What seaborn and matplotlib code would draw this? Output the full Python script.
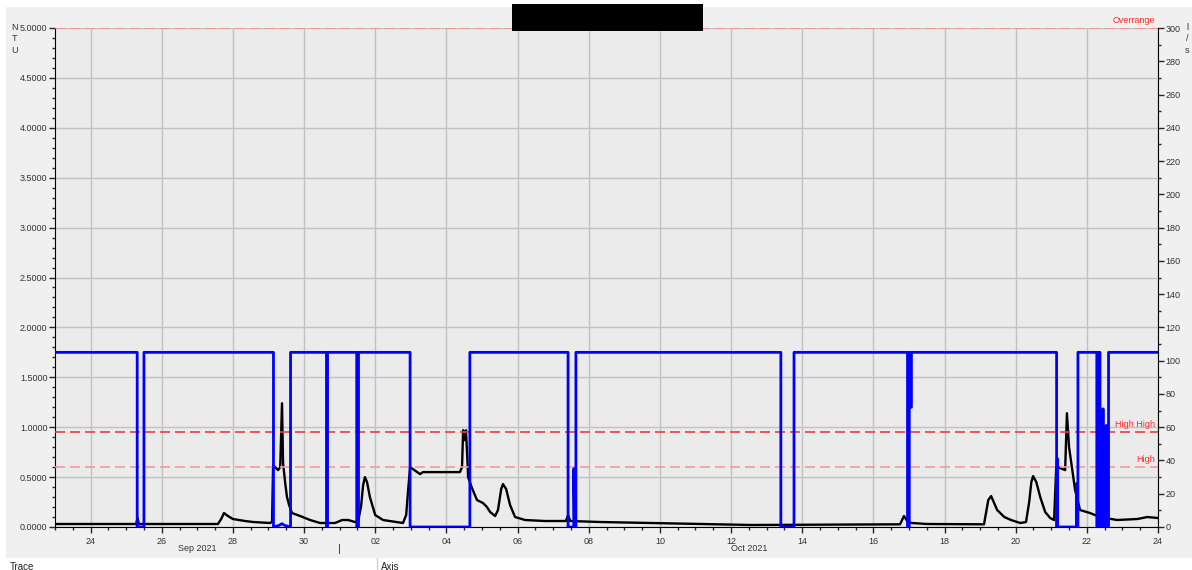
import pandas as pd
import seaborn as sns
import matplotlib.pyplot as plt
import matplotlib.dates as mdates
from matplotlib.patches import Rectangle
from matplotlib.lines import Line2D
from matplotlib.ticker import MultipleLocator, FormatStrFormatter

# Turbidity (NTU) - days since 2021-09-23 00:00
ntu_day = [0.00, 2.11, 2.28, 2.32, 2.36, 4.58, 4.67, 4.75, 4.86, 5.00, 5.34, 5.57,
           6.04, 6.10, 6.13, 6.27, 6.33, 6.38, 6.41, 6.47, 6.52, 6.58, 6.66, 6.89,
           7.17, 7.45, 7.87, 8.07, 8.24, 8.43, 8.52, 8.60, 8.66, 8.71, 8.77, 8.85,
           9.00, 9.22, 9.78, 9.87, 9.92, 9.98, 10.18, 10.26, 10.34, 11.38, 11.44,
           11.47, 11.52, 11.55, 11.60, 11.61, 11.72, 11.86, 12.03, 12.14, 12.23,
           12.37, 12.45, 12.54, 12.59, 12.68, 12.79, 12.93, 13.21, 13.77, 14.36,
           14.42, 14.48, 15.32, 17.18, 19.59, 23.75, 23.86, 23.97, 24.09, 24.51,
           26.11, 26.23, 26.31, 26.48, 26.68, 26.87, 27.13, 27.29, 27.38, 27.44,
           27.49, 27.58, 27.69, 27.83, 27.97, 28.08, 28.14, 28.19, 28.39, 28.44,
           28.50, 28.58, 28.67, 28.81, 29.09, 29.37, 29.85, 30.42, 30.70, 31.00]
ntu_val = [0.03, 0.03, 0.03, 0.09, 0.03, 0.03, 0.08, 0.14, 0.11, 0.08, 0.06, 0.05,
           0.04, 0.05, 0.62, 0.57, 0.60, 1.24, 0.64, 0.44, 0.30, 0.22, 0.14, 0.11,
           0.07, 0.04, 0.04, 0.07, 0.07, 0.05, 0.06, 0.20, 0.42, 0.50, 0.45, 0.30,
           0.12, 0.07, 0.04, 0.12, 0.35, 0.60, 0.55, 0.53, 0.55, 0.55, 0.60,
           0.97, 0.87, 0.97, 0.60, 0.50, 0.39, 0.27, 0.24, 0.20, 0.15,
           0.11, 0.17, 0.38, 0.43, 0.38, 0.22, 0.10, 0.07, 0.06, 0.06,
           0.12, 0.06, 0.05, 0.037, 0.02, 0.027, 0.11, 0.05, 0.04, 0.03,
           0.027, 0.27, 0.31, 0.17, 0.10, 0.07, 0.04, 0.05, 0.25, 0.45,
           0.51, 0.45, 0.30, 0.15, 0.09, 0.07, 0.60, 0.60, 0.57, 1.14,
           0.80, 0.60, 0.37, 0.17, 0.14, 0.10, 0.07, 0.08, 0.10, 0.09]

# Flow (l/s)
flow_day = [0.00, 2.31, 2.31, 2.50, 2.50,
            6.14, 6.14, 6.30, 6.38, 6.45, 6.62, 6.62,
            7.63, 7.63, 7.66, 7.66,
            8.48, 8.48, 8.53, 8.53,
            9.98, 9.98, 11.66, 11.66,
            14.42, 14.42, 14.58, 14.58, 14.60, 14.64, 14.64,
            20.40, 20.40, 20.77, 20.77,
            23.96, 23.96, 24.01, 24.01, 24.04, 24.04, 24.07, 24.07,
            28.15, 28.15, 28.17, 28.17, 28.18, 28.18, 28.71, 28.71, 28.72, 28.75, 28.75,
            29.28, 29.28, 29.30, 29.30, 29.33, 29.33, 29.35, 29.35, 29.37, 29.37,
            29.45, 29.45, 29.46, 29.46, 29.54, 29.54, 29.55, 29.55, 29.61, 29.61, 31.00]
flow_val = [105, 105, 0, 0, 105,
            105, 0, 1, 2, 1, 0, 105,
            105, 0, 0, 105,
            105, 0, 0, 105,
            105, 0, 0, 105,
            105, 0, 0, 35, 0, 0, 105,
            105, 0, 0, 105,
            105, 0, 0, 105, 105, 72, 72, 105,
            105, 0, 0, 41, 41, 0, 0, 26, 0, 0, 105,
            105, 0, 0, 105, 105, 0, 0, 105, 105, 0,
            0, 71, 71, 0, 0, 61, 61, 0, 0, 105, 105]

alarm_names = ["Overrange", "High High", "High"]
alarm_ntu = [5.0, 0.95, 0.6]
alarm_colors = ["#f28c8c", "#e8403c", "#f49a9a"]

start = pd.Timestamp("2021-09-23")
end = pd.Timestamp("2021-10-24")
ntu_df = pd.DataFrame({"time": start + pd.to_timedelta(ntu_day, unit="D"), "ntu": ntu_val})
flow_df = pd.DataFrame({"time": start + pd.to_timedelta(flow_day, unit="D"), "flow": flow_val})

sns.set_style("ticks")
plt.rcParams["font.family"] = ["Liberation Sans", "DejaVu Sans"]
tcol = "#333333"

W, H = 1192, 570
fig = plt.figure(figsize=(W / 100, H / 100), dpi=100, facecolor="white")
fig.add_artist(Rectangle((6 / W, 1 - 558 / H), 1 - 6 / W, (558 - 7) / H,
                         transform=fig.transFigure, facecolor="#f0f0f0",
                         edgecolor="none", zorder=-10))

ax = fig.add_axes([55 / W, 1 - 527 / H, (1158 - 55) / W, (527 - 28) / H])
ax.set_facecolor("#ebebeb")
ax2 = ax.twinx()

sns.lineplot(data=ntu_df, x="time", y="ntu", ax=ax, color="black", lw=1.7,
             estimator=None, sort=False, legend=False)
sns.lineplot(data=flow_df, x="time", y="flow", ax=ax2, color="#0000ff", lw=2,
             estimator=None, sort=False, legend=False)

for name, val, col in zip(alarm_names, alarm_ntu, alarm_colors):
    ax.axhline(val, color=col, lw=1.2, ls=(0, (6, 3)), zorder=3)
    ax.annotate(name, xy=(1, val), xycoords=("axes fraction", "data"),
                xytext=(-2, 2.5), textcoords="offset points", ha="right", va="bottom",
                color="#ff2a2a", fontsize=6.5)

ax.set_xlim(start, end)
ax.set_ylim(0, 5)
ax2.set_ylim(0, 300)

ax.xaxis.set_major_locator(mdates.DayLocator(bymonthday=range(2, 32, 2)))
ax.xaxis.set_major_formatter(mdates.DateFormatter("%d"))
ax.xaxis.set_minor_locator(mdates.HourLocator(byhour=[0, 12]))
ax.yaxis.set_major_locator(MultipleLocator(0.5))
ax.yaxis.set_minor_locator(MultipleLocator(0.1))
ax.yaxis.set_major_formatter(FormatStrFormatter("%.4f"))
ax2.yaxis.set_major_locator(MultipleLocator(20))
ax2.yaxis.set_minor_locator(MultipleLocator(10))

ax.grid(which="major", color="#c2c2c2", lw=1)
ax2.grid(False)
ax.set_xlabel("")
ax.set_ylabel("")
ax2.set_xlabel("")
ax2.set_ylabel("")

for a in (ax, ax2):
    a.tick_params(which="major", length=4, width=1, labelsize=6.5, labelcolor=tcol, pad=1.5)
    a.tick_params(which="minor", length=2.5, width=1)
ax.tick_params(axis="x", pad=3)
ax.spines["top"].set_visible(False)
ax.spines["right"].set_visible(False)
for s in ("top", "left", "bottom"):
    ax2.spines[s].set_visible(False)
for s in ("left", "bottom"):
    ax.spines[s].set_color("black")
ax2.spines["right"].set_color("black")

# month labels under the day ticks
for txt, when in [("Sep 2021", "2021-09-27"), ("Oct 2021", "2021-10-12 12:00"), ("|", "2021-10-01")]:
    ax.annotate(txt, xy=(mdates.date2num(pd.Timestamp(when)), 0),
                xycoords=("data", "axes fraction"), xytext=(0, -12.5),
                textcoords="offset points", ha="center", va="top",
                fontsize=6.5 if txt != "|" else 8, color=tcol)

# axis unit labels
fig.text(15 / W, 1 - 23 / H, "N\nT\nU", ha="center", va="top", fontsize=6.5,
         color=tcol, linespacing=1.35)
fig.text(1187 / W, 1 - 23 / H, "l\n/\ns", ha="center", va="top", fontsize=6.5,
         color=tcol, linespacing=1.35)

# bottom panel header
fig.text(10 / W, 1 - 562 / H, "Trace", ha="left", va="top", fontsize=7, color="#222222")
fig.text(381 / W, 1 - 562 / H, "Axis", ha="left", va="top", fontsize=7, color="#222222")
fig.add_artist(Line2D([377 / W, 377 / W], [0, 1 - 558 / H], transform=fig.transFigure,
                      color="#d0d0d0", lw=1))

# redacted title
fig.add_artist(Rectangle((512 / W, 1 - 31 / H), 191 / W, 27 / H,
                         transform=fig.transFigure, facecolor="black",
                         edgecolor="none", zorder=20))

fig.savefig("out.png", dpi=100, facecolor=fig.get_facecolor())
